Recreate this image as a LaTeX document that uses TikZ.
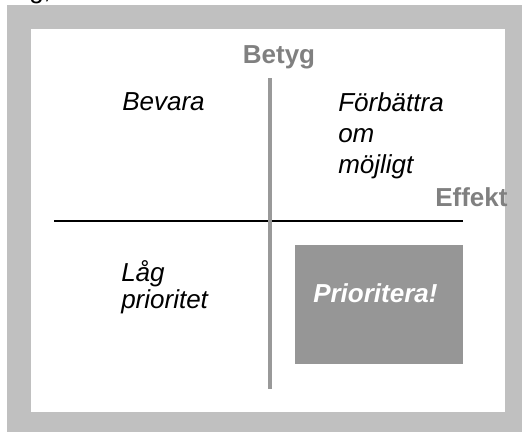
\documentclass[tikz,border=0pt]{standalone}
\usepackage{fontspec}
\setmainfont{Liberation Sans}
\usepackage{tikz}
\usetikzlibrary{positioning}

\definecolor{ramgra}{HTML}{C0C0C0}
\definecolor{axelgra}{HTML}{999999}
\definecolor{textgra}{HTML}{808080}
\definecolor{rutgra}{HTML}{969696}

\tikzset{
    kvadrant/.style={inner sep=0pt, align=left,
        font=\itshape\fontsize{19.5}{23}\selectfont},
    axeltext/.style={inner sep=0pt, text=textgra,
        font=\bfseries\fontsize{19.5}{23}\selectfont}
}

\begin{document}
\begin{tikzpicture}[x=0.75pt,y=-0.75pt]

    \useasboundingbox (0,0) rectangle (529,432);

    % ram
    \fill[ramgra] (7,5) rectangle (522,432);
    \fill[white] (31,29) rectangle (505,412);

    % avklippt text ovanfor
    \node[inner sep=0pt, anchor=base west,
        font=\fontsize{19.5}{23}\selectfont
    ] (rest) at (29,-1.5) {g,};

    % axlar
    \coordinate (ytop) at (270,78);
    \coordinate (ybot) at (270,389);
    \coordinate (xvan) at (54,221);
    \coordinate (xhog) at (463,221);

    \draw[line width=1.2pt, black] (xvan) -- (xhog);
    \draw[line width=2.4pt, axelgra] (ytop) -- (ybot);

    % axeltexter
    \node[axeltext, anchor=base] (betyg) at (279,63.3) {Betyg};
    \node[axeltext, anchor=base west] (effekt) at (435,206.7) {Effekt};

    % kvadranter (base = sista radens baslinje)
    \node[kvadrant, anchor=base west] (bevara) at (122,110.7) {Bevara};
    \node[kvadrant, anchor=base west] (forbattra) at (338,173)
        {F\"orb\"attra\\om\\m\"ojligt};
    \node[kvadrant, anchor=base west,
        font=\itshape\fontsize{19.5}{20}\selectfont
    ] (lag) at (121,308.5) {L\aa g\\prioritet};

    % ruta
    \node [fill=rutgra,
        minimum width=126pt,
        minimum height=89.25pt
    ] (prio) at (378.5,304.5) {};
    \node[kvadrant, text=white, anchor=base west,
        font=\bfseries\itshape\fontsize{19.5}{23}\selectfont
    ] (prioText) at (313,302.7) {Prioritera!};

\end{tikzpicture}
\end{document}
